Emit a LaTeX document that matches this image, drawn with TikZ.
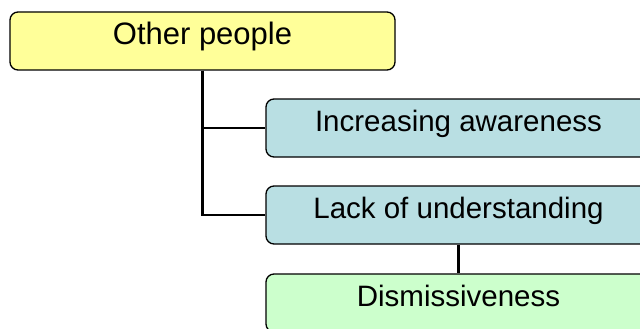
\documentclass[tikz,border=0pt]{standalone}
\usepackage{fontspec}
\setmainfont{Liberation Sans}
\definecolor{boxyellow}{HTML}{FFFF99}
\definecolor{boxblue}{HTML}{B9DFE3}
\definecolor{boxgreen}{HTML}{CCFFCC}
\tikzset{
  tbox/.style={draw=black, line width=1.3pt, rounded corners=8pt, minimum width=385pt, minimum height=58pt,
    inner sep=0pt, text height=27pt, text depth=20pt, font=\fontsize{29.5pt}{32pt}\selectfont},
  conn/.style={draw=black, line width=2.2pt}
}
\begin{document}
\begin{tikzpicture}[x=1pt,y=-1pt]
\useasboundingbox (0,0) rectangle (640,329);
\clip (0,0) rectangle (640,329);
\node[tbox, fill=boxyellow] (other) at (202.5,41) {\fontsize{31pt}{33pt}\selectfont Other people};
\node[tbox, fill=boxblue] (inc) at (458.5,128) {Increasing awareness};
\node[tbox, fill=boxblue] (lack) at (458.5,215) {Lack of understanding};
\node[tbox, fill=boxgreen] (dism) at (458.5,303) {Dismissiveness};
\draw[conn] (other.south) |- (inc.west);
\draw[conn] (other.south) |- (lack.west);
\draw[conn] (lack.south) -- (dism.north);
\end{tikzpicture}
\end{document}
